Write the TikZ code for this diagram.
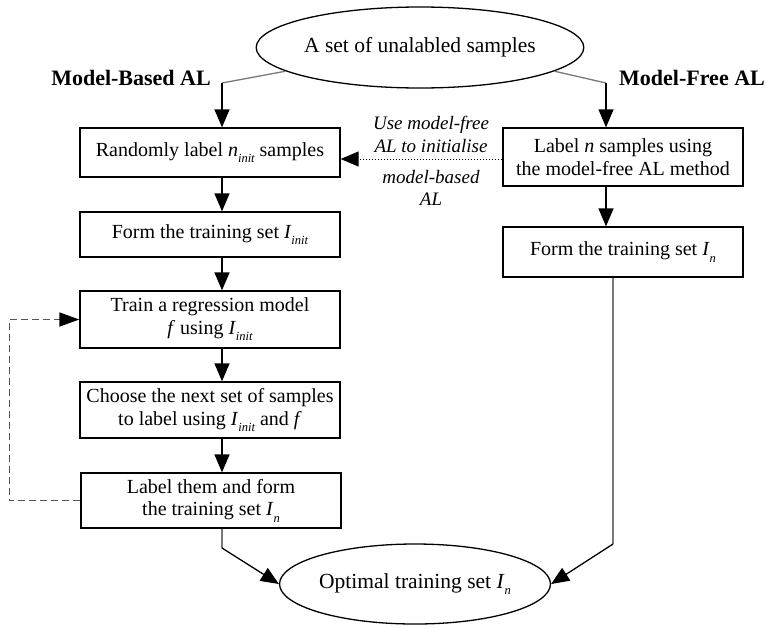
\documentclass[tikz,border=0pt]{standalone}
\usepackage{fontspec}
\setmainfont{Liberation Serif}
\usetikzlibrary{arrows.meta,shapes.geometric,calc}

\definecolor{linkgray}{RGB}{120,120,120}
\definecolor{loopgray}{RGB}{85,85,85}

% italic subscript, dropped below the baseline
\newcommand\lowsub[1]{\raisebox{-0.32em}{\fontsize{12.5}{12.5}\selectfont\itshape #1}}

\begin{document}
\begin{tikzpicture}[x=1pt,y=-1pt,
  every node/.style={font=\fontsize{20}{22.5}\selectfont},
  stepbox/.style={draw,line width=1.3pt,rectangle,minimum width=260pt,inner sep=0pt,align=center},
  rightbox/.style={stepbox,minimum width=240pt},
  endpoint/.style={draw,line width=1.3pt,ellipse,inner sep=0pt,font=\fontsize{21.5}{24}\selectfont},
  head/.style={-{Triangle[length=18pt,width=15pt]}},
  flow/.style={line width=1.3pt,head},
  feed/.style={line width=1.3pt,linkgray},
  heading/.style={font=\fontsize{22}{24}\selectfont\bfseries,anchor=base},
  note/.style={font=\fontsize{19}{21}\selectfont\itshape,anchor=base}]

\useasboundingbox (0,0) rectangle (767,627);

% start and end of the process
\node[endpoint,minimum width=272pt,minimum height=81pt] (top) at (420,47.5) {A set of unalabled samples};
\node[endpoint,minimum width=264pt,minimum height=80pt] (bot) at (415,584) {Optimal training set \textit{I}\lowsub{n}};

% branch titles
\node[heading] (mb) at (131,85) {Model-Based AL};
\node[heading] (mf) at (692,85) {Model-Free AL};

% model-based branch
\node[stepbox,minimum height=49pt] (b1) at (210,152.5) {Randomly label \textit{n}\lowsub{init} samples};
\node[stepbox,minimum height=45pt] (b2) at (210,234.5) {Form the training set \textit{I}\lowsub{init}};
\node[stepbox,minimum height=57pt] (b3) at (210,319.5) {Train a regression model\\\textit{f} using \textit{I}\lowsub{init}};
\node[stepbox,minimum height=56pt] (b4) at (210,410) {Choose the next set of samples\\to label using \textit{I}\lowsub{init} and \textit{f}};
\node[stepbox,minimum height=55pt] (b5) at (211,500.5) {Label them and form\\the training set \textit{I}\lowsub{n}};

% model-free branch
\node[rightbox,minimum height=58pt] (r1) at (623,157) {Label \textit{n} samples using\\the model-free AL method};
\node[rightbox,minimum height=50pt] (r2) at (623,252) {Form the training set \textit{I}\lowsub{n}};

% columns of the vertical arrows
\coordinate (lx) at (222,0);
\coordinate (rx) at (606,0);
\coordinate (gx) at (613,0);
\coordinate (dl) at (0,159);
\coordinate (lbend) at (222,83);
\coordinate (rbend) at (606,83);
\coordinate (lfoot) at (222,548);
\coordinate (rfoot) at (613,544);

% split from the start
\draw[feed] (top.190) -- (lbend);
\draw[flow] (lbend) -- (b1.north -| lx);
\draw[feed] (top.-10) -- (rbend);
\draw[flow] (rbend) -- (r1.north -| rx);

% model-based chain
\draw[flow] (b1.south -| lx) -- (b2.north -| lx);
\draw[flow] (b2.south -| lx) -- (b3.north -| lx);
\draw[flow] (b3.south -| lx) -- (b4.north -| lx);
\draw[flow] (b4.south -| lx) -- (b5.north -| lx);

% iteration loop
\draw[line width=1.7pt,loopgray,dash pattern=on 7pt off 4pt,
      -{Triangle[length=20pt,width=14pt,color=black]}]
  (b5.west) -- ++(-71,0) |- (b3.west);

% model-free chain
\draw[flow] (r1.south -| rx) -- (r2.north -| rx);

% initialisation link between the branches
\draw[line width=1pt,dotted,head] (r1.west |- dl) -- (b1.east |- dl);
\node[note] (n1) at (431,129) {Use model-free};
\node[note] (n2) at (431,152) {AL to initialise};
\node[note] (n3) at (431,183) {model-based};
\node[note] (n4) at (431,205) {AL};

% merge into the result
\draw[feed] (b5.south -| lx) -- (lfoot);
\draw[flow] (lfoot) -- (bot.west);
\draw[feed] (r2.south -| gx) -- (rfoot);
\draw[flow] (rfoot) -- (bot.east);

\end{tikzpicture}
\end{document}
